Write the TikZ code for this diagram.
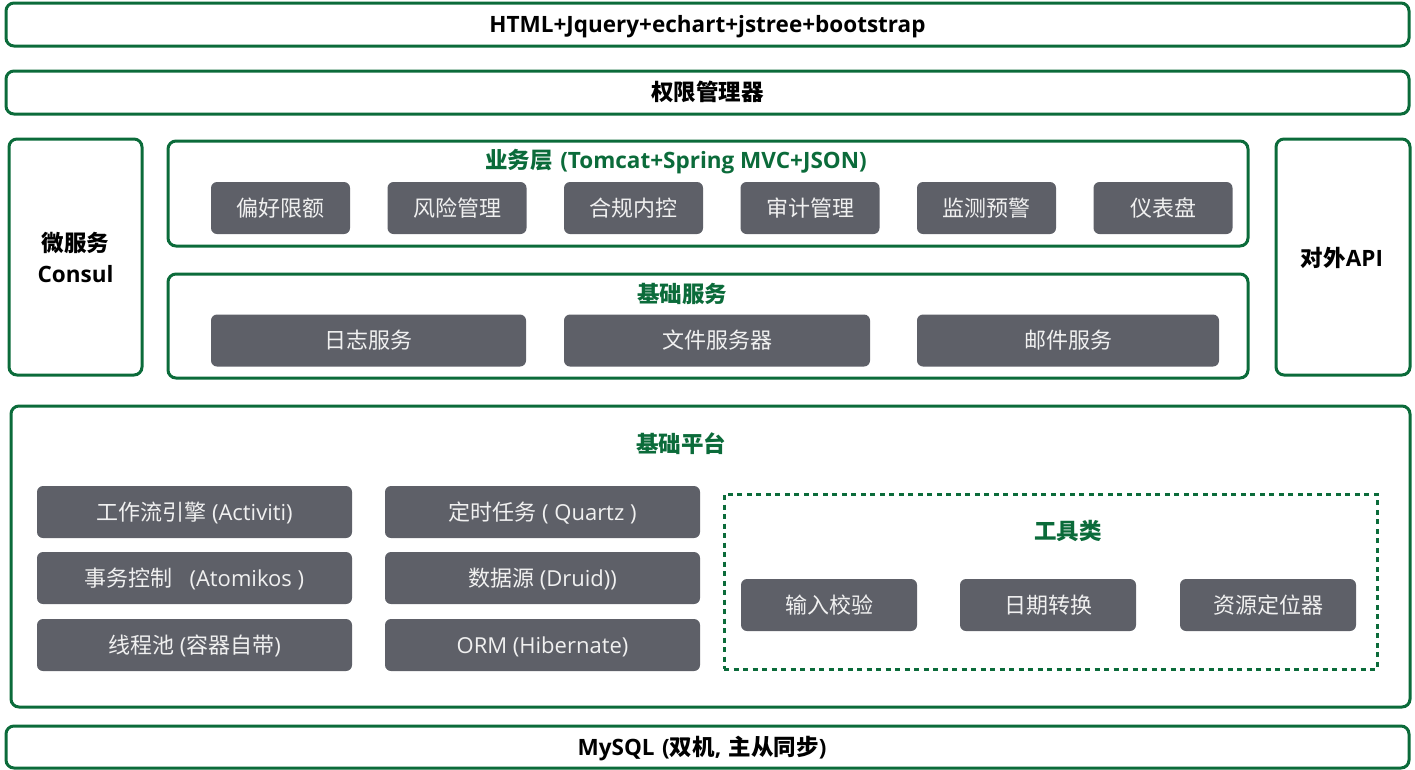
\documentclass[tikz,border=0pt]{standalone}
\usepackage{fontspec}
\setmainfont{Open Sans}
\newfontfamily\cjk{Noto Sans CJK SC}
\usetikzlibrary{positioning}
\definecolor{DeepGreen}{HTML}{0B6B3A}
\definecolor{SlateGray}{HTML}{5E6068}

\begin{document}
\begin{tikzpicture}[x=1pt, y=-1pt,
    layer/.style={draw=DeepGreen, line width=3pt, rounded corners=8pt, inner sep=0pt},
    tools/.style={draw=DeepGreen, line width=3pt, dash pattern=on 5pt off 4.5pt, inner sep=0pt},
    module/.style={fill=SlateGray, rounded corners=6pt, text=white!94!black, inner sep=0pt,
        font=\fontsize{22}{26}\selectfont, minimum height=52pt, text height=21.5pt, text depth=5pt},
    heading/.style={font=\fontsize{22.5}{27}\selectfont\bfseries, text=DeepGreen,
        inner sep=0pt, text height=21.5pt, text depth=5pt},
    plain/.style={font=\fontsize{22.5}{27}\selectfont\bfseries, text=black, inner sep=0pt,
        text height=21.5pt, text depth=5pt}]
    \useasboundingbox (0,0) rectangle (1415,769);

    % Front end and rights bars
    \node[layer, minimum width=1403pt, minimum height=43pt] (web) at (707.5,24.5) {};
    \node[plain] (webtxt) at (web) {HTML+Jquery+echart+jstree+bootstrap};
    \node[layer, minimum width=1403pt, minimum height=43pt] (auth) at (707.5,92.5) {};
    \node[plain] (authtxt) at (auth) {\cjk 权限管理器};

    % Side columns
    \node[layer, minimum width=133pt, minimum height=236pt] (micro) at (75.5,257) {};
    \node[plain] (microtxt) at (75.5,243) {\cjk 微服务};
    \node[plain] (consultxt) at (75.5,274) {Consul};
    \node[layer, minimum width=134pt, minimum height=236pt] (api) at (1343,257) {};
    \node[plain] (apitxt) at (1342,258) {{\cjk 对外}API};

    % Business layer
    \node[layer, minimum width=1080pt, minimum height=105pt] (biz) at (708,193.5) {};
    \node[heading] (biztitle) at (676,160) {{\cjk 业务层}\,\,({Tomcat+Spring MVC+JSON})};
    \foreach \name/\cx/\txt in {pref/280.5/偏好限额, risk/457/风险管理, comp/633.5/合规内控,
        audit/810/审计管理, watch/986.5/监测预警, dash/1163/仪表盘}
        \node[module, minimum width=139pt] (\name) at (\cx,208) {\cjk\txt};

    % Basic services
    \node[layer, minimum width=1080pt, minimum height=104pt] (base) at (708,326) {};
    \node[heading] (basetitle) at (682,294) {\cjk 基础服务};
    \node[module, minimum width=315pt] (logsvc) at (368.5,340.5) {\cjk 日志服务};
    \node[module, minimum width=306pt] (filesvc) at (717,340.5) {\cjk 文件服务器};
    \node[module, minimum width=302pt] (mailsvc) at (1068,340.5) {\cjk 邮件服务};

    % Basic platform
    \node[layer, minimum width=1399pt, minimum height=301pt] (plat) at (710.5,556.5) {};
    \node[heading] (plattitle) at (681,444) {\cjk 基础平台};
    \node[module, minimum width=315pt] (flow) at (194.5,512) {{\cjk 工作流引擎} (Activiti)};
    \node[module, minimum width=315pt] (trans) at (194.5,578) {{\cjk 事务控制\enspace} (Atomikos )};
    \node[module, minimum width=315pt] (pool) at (194.5,645) {{\cjk 线程池} ({\cjk 容器自带})};
    \node[module, minimum width=315pt] (timer) at (542.5,512) {{\cjk 定时任务} ( Quartz )};
    \node[module, minimum width=315pt] (source) at (542.5,578) {{\cjk 数据源} (Druid))};
    \node[module, minimum width=315pt] (orm) at (542.5,645) {ORM (Hibernate)};

    % Tool classes
    \node[tools, minimum width=653pt, minimum height=175pt] (util) at (1050.5,581.5) {};
    \node[heading] (utiltitle) at (1068,531) {\cjk 工具类};
    \foreach \name/\cx/\txt in {check/829/输入校验, date/1048/日期转换, locate/1268/资源定位器}
        \node[module, minimum width=176pt] (\name) at (\cx,605) {\cjk\txt};

    % Database bar
    \node[layer, minimum width=1403pt, minimum height=42pt] (db) at (707.5,747) {};
    \node[plain] (dbtxt) at (702,747) {MySQL\,\,({\cjk 双机},\,\,{\cjk 主从同步})};
\end{tikzpicture}
\end{document}
